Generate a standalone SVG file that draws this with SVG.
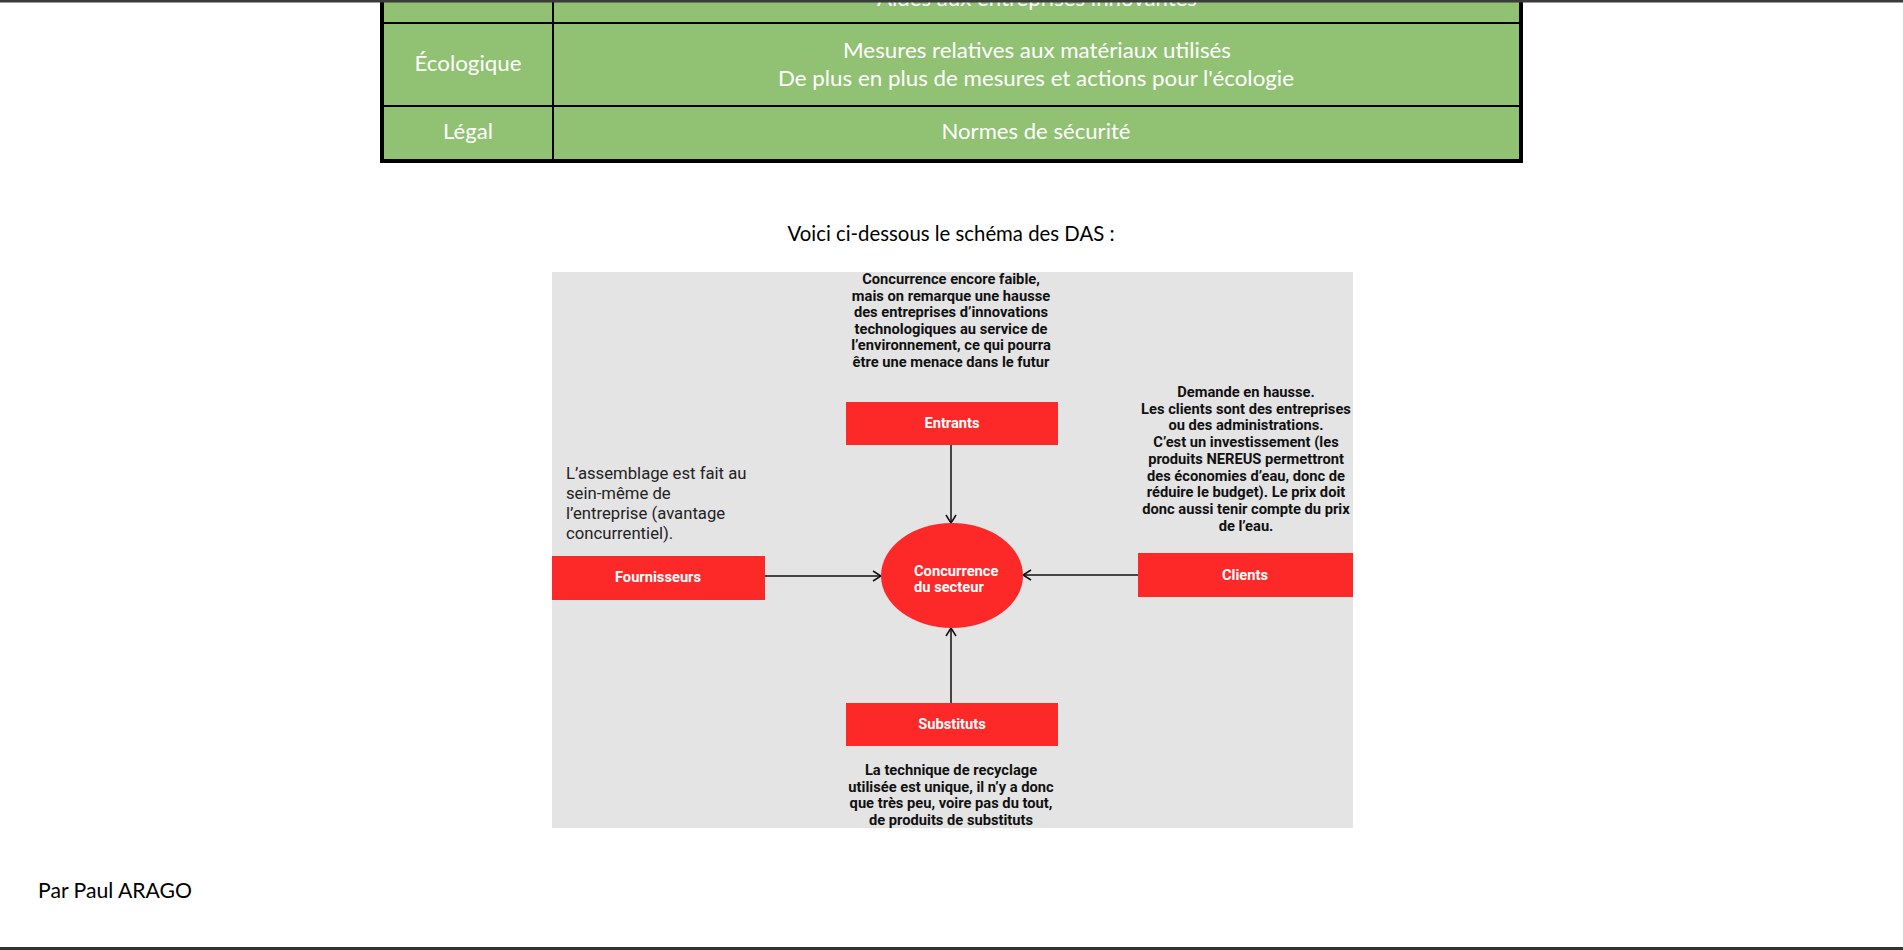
<svg xmlns="http://www.w3.org/2000/svg" width="1903" height="950" viewBox="0 0 1903 950">
<style>
.cal{font-family:Lato,"Liberation Sans",sans-serif;font-size:22px}
.tw{fill:#ffffff;text-anchor:middle}
.dark{fill:#000000}
.bt{font-family:Roboto,"Liberation Sans",sans-serif;font-weight:700;font-size:14.7px;fill:#111111;text-anchor:middle}
.lbl{font-family:Roboto,"Liberation Sans",sans-serif;font-weight:700;font-size:14.7px;fill:#ffffff;text-anchor:middle}
.lbls{font-family:Roboto,"Liberation Sans",sans-serif;font-weight:700;font-size:14.7px;fill:#ffffff;text-anchor:start}
.reg{font-family:Roboto,"Liberation Sans",sans-serif;font-size:16.7px;fill:#222222}
.box{fill:#fd2828}
.conn{stroke:#111111;stroke-width:1.5;fill:none}
</style>
<defs>
<marker id="arr" markerUnits="userSpaceOnUse" markerWidth="12" markerHeight="12" refX="9" refY="6" orient="auto">
<path d="M1,1 L9,6 L1,11" fill="none" stroke="#111111" stroke-width="1.5"/>
</marker>
<clipPath id="dclip"><rect x="552" y="272" width="801" height="556"/></clipPath>
</defs>
<rect x="0" y="0" width="1903" height="950" fill="#ffffff"/>
<g id="table">
<rect x="382" y="-10" width="1139" height="171" fill="#91c173"/>
<text class="cal tw" x="1037" y="6" textLength="320" lengthAdjust="spacingAndGlyphs">Aides aux entreprises innovantes</text>
<rect x="380" y="-10" width="4" height="173" fill="#000"/>
<rect x="1519" y="-10" width="4" height="173" fill="#000"/>
<rect x="380" y="159" width="1143" height="4" fill="#000"/>
<rect x="380" y="22" width="1143" height="2" fill="#000"/>
<rect x="380" y="105" width="1143" height="2" fill="#000"/>
<rect x="552" y="-10" width="2" height="171" fill="#000"/>
<text class="cal tw" x="468" y="71" textLength="107" lengthAdjust="spacingAndGlyphs">Écologique</text>
<text class="cal tw" x="1037" y="58" textLength="388" lengthAdjust="spacingAndGlyphs">Mesures relatives aux matériaux utilisés</text>
<text class="cal tw" x="1036" y="86" textLength="516" lengthAdjust="spacingAndGlyphs">De plus en plus de mesures et actions pour l'écologie</text>
<text class="cal tw" x="468" y="139" textLength="50" lengthAdjust="spacingAndGlyphs">Légal</text>
<text class="cal tw" x="1036" y="139" textLength="189" lengthAdjust="spacingAndGlyphs">Normes de sécurité</text>
</g>
<rect x="0" y="0" width="1903" height="2.5" fill="#3b3b3b"/>
<text class="cal dark" x="951" y="241" text-anchor="middle" textLength="327" lengthAdjust="spacingAndGlyphs">Voici ci-dessous le schéma des DAS :</text>
<g id="diagram" clip-path="url(#dclip)">
<rect x="552" y="272" width="801" height="556" fill="#e4e4e4"/>
<g id="connectors">
<line class="conn" x1="951" y1="445" x2="951" y2="523" marker-end="url(#arr)"/>
<line class="conn" x1="765" y1="576" x2="881" y2="576" marker-end="url(#arr)"/>
<line class="conn" x1="1138" y1="575" x2="1023" y2="575" marker-end="url(#arr)"/>
<line class="conn" x1="951" y1="703" x2="951" y2="628" marker-end="url(#arr)"/>
</g>
<g id="entrants-note">
<text class="bt" x="951" y="284">Concurrence encore faible,</text>
<text class="bt" x="951" y="300.5">mais on remarque une hausse</text>
<text class="bt" x="951" y="317">des entreprises d’innovations</text>
<text class="bt" x="951" y="333.5">technologiques au service de</text>
<text class="bt" x="951" y="350">l’environnement, ce qui pourra</text>
<text class="bt" x="951" y="366.5">être une menace dans le futur</text>
</g>
<g id="entrants">
<rect class="box" x="846" y="402" width="212" height="43"/>
<text class="lbl" x="952" y="428">Entrants</text>
</g>
<g id="clients-note">
<text class="bt" x="1246" y="397">Demande en hausse.</text>
<text class="bt" x="1246" y="413.7">Les clients sont des entreprises</text>
<text class="bt" x="1246" y="430.4">ou des administrations.</text>
<text class="bt" x="1246" y="447.1">C’est un investissement (les</text>
<text class="bt" x="1246" y="463.8">produits NEREUS permettront</text>
<text class="bt" x="1246" y="480.5">des économies d’eau, donc de</text>
<text class="bt" x="1246" y="497.2">réduire le budget). Le prix doit</text>
<text class="bt" x="1246" y="513.9">donc aussi tenir compte du prix</text>
<text class="bt" x="1246" y="530.6">de l’eau.</text>
</g>
<g id="clients">
<rect class="box" x="1138" y="553" width="215" height="44"/>
<text class="lbl" x="1245" y="580">Clients</text>
</g>
<g id="fournisseurs-note">
<text class="reg" x="566" y="479">L’assemblage est fait au</text>
<text class="reg" x="566" y="499">sein-même de</text>
<text class="reg" x="566" y="519">l’entreprise (avantage</text>
<text class="reg" x="566" y="539">concurrentiel).</text>
</g>
<g id="fournisseurs">
<rect class="box" x="552" y="556" width="213" height="44"/>
<text class="lbl" x="658" y="582">Fournisseurs</text>
</g>
<g id="concurrence">
<ellipse cx="952" cy="575.5" rx="71" ry="52.5" fill="#fd2828"/>
<text class="lbls" x="914" y="576">Concurrence</text>
<text class="lbls" x="914" y="592">du secteur</text>
</g>
<g id="substituts">
<rect class="box" x="846" y="703" width="212" height="43"/>
<text class="lbl" x="952" y="729">Substituts</text>
</g>
<g id="substituts-note">
<text class="bt" x="951" y="775">La technique de recyclage</text>
<text class="bt" x="951" y="791.5">utilisée est unique, il n’y a donc</text>
<text class="bt" x="951" y="808">que très peu, voire pas du tout,</text>
<text class="bt" x="951" y="824.5">de produits de substituts</text>
</g>
</g>
<text class="cal dark" x="38" y="898" textLength="154" lengthAdjust="spacingAndGlyphs">Par Paul ARAGO</text>
<rect x="0" y="947" width="1903" height="3" fill="#333333"/>
</svg>
